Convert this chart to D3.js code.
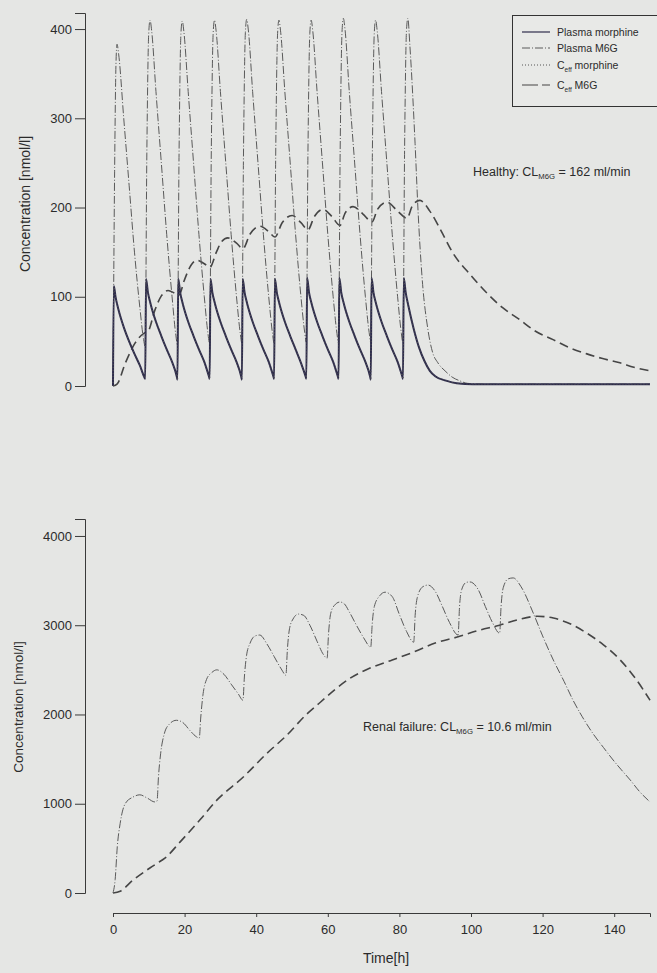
<!DOCTYPE html>
<html>
<head>
<meta charset="utf-8">
<script src="https://cdn.jsdelivr.net/npm/d3@7"></script>
<style>
    body { margin: 0; background: #e5e6e4; }
    svg { display: block; }
    text { font-family: "Liberation Sans", Arial, sans-serif; fill: #2b2b2b; }
</style>
</head>
<body>
<svg id="chart" width="657" height="973"></svg>
<script>
/*--------------------------------------------------------------------------------
----- DATA (time [h], concentration [nmol/l])
--------------------------------------------------------------------------------*/

// Top panel (healthy): plasma morphine
const top_plasma_morphine = [
    [0, 0], [0.3, 112], [1, 99], [2, 86], [4, 66], [6, 50], [8, 36], [10, 23], [11.8, 9],
    [12, 8], [12.3, 120], [13, 105], [14, 92], [16, 72], [18, 56], [20, 41], [22, 27], [23.8, 10],
    [24, 7], [24.3, 120], [25, 105], [26, 92], [28, 72], [30, 56], [32, 41], [34, 27], [35.8, 10],
    [36, 8], [36.3, 120], [37, 105], [38, 92], [40, 72], [42, 56], [44, 41], [46, 27], [47.8, 10],
    [48, 7], [48.3, 120], [49, 105], [50, 92], [52, 72], [54, 56], [56, 41], [58, 27], [59.8, 10],
    [60, 8], [60.3, 120], [61, 105], [62, 92], [64, 72], [66, 56], [68, 41], [70, 26], [71.8, 10],
    [72, 8], [72.3, 121], [73, 105], [74, 92], [76, 72], [78, 56], [80, 41], [82, 27], [83.8, 10],
    [84, 8], [84.3, 121], [85, 105], [86, 92], [88, 72], [90, 56], [92, 41], [94, 27], [95.8, 10],
    [96, 7], [96.3, 121], [97, 105], [98, 92], [100, 72], [102, 56], [104, 41], [106, 27], [107.8, 10],
    [108, 8], [108.3, 121], [109, 105], [110, 90], [112, 64], [114, 43], [116, 28], [118, 17],
    [120, 11], [124, 6], [128, 3], [134, 2], [200, 2]
];

// Top panel: effect-site morphine lies on top of the plasma curve
const top_ceff_morphine = top_plasma_morphine;

// Top panel: plasma M6G
const top_plasma_m6g = [
    [0, 0], [0.6, 240], [1.1, 360], [1.5, 383], [2.1, 372], [4, 300], [6, 225], [8, 150], [10, 88], [11.4, 52],
    [12, 44], [12.6, 260], [13.3, 395], [13.8, 410], [14.4, 398], [16, 330], [18, 250], [20, 170], [22, 100], [23.4, 57],
    [24, 46], [24.6, 260], [25.3, 395], [25.8, 409], [26.4, 397], [28, 330], [30, 250], [32, 170], [34, 100], [35.4, 58],
    [36, 47], [36.6, 260], [37.3, 395], [37.8, 410], [38.4, 398], [40, 330], [42, 250], [44, 170], [46, 100], [47.4, 59],
    [48, 48], [48.6, 260], [49.3, 396], [49.8, 411], [50.4, 399], [52, 330], [54, 250], [56, 170], [58, 100], [59.4, 59],
    [60, 48], [60.6, 260], [61.3, 395], [61.8, 410], [62.4, 398], [64, 330], [66, 250], [68, 170], [70, 100], [71.4, 60],
    [72, 49], [72.6, 260], [73.3, 395], [73.8, 410], [74.4, 398], [76, 330], [78, 250], [80, 170], [82, 100], [83.4, 59],
    [84, 48], [84.6, 262], [85.3, 397], [85.8, 412], [86.4, 400], [88, 330], [90, 250], [92, 170], [94, 100], [95.4, 60],
    [96, 49], [96.6, 260], [97.3, 395], [97.8, 410], [98.4, 398], [100, 330], [102, 250], [104, 170], [106, 100], [107.4, 59],
    [108, 48], [108.6, 265], [109.3, 398], [109.8, 412], [110.6, 380], [112.5, 272], [113.6, 197], [115.1, 122],
    [117.3, 63], [119, 38], [121, 26], [124, 16], [126.3, 10], [129, 6], [132, 3], [138, 2], [200, 2]
];

// Top panel: effect-site M6G
const top_ceff_m6g = [
    [0, 0], [1.5, 2], [4.5, 25], [8.2, 48], [11.5, 59], [13, 61], [15.6, 85], [18, 101], [20.5, 107],
    [23, 104], [24.6, 102], [26.5, 118], [29, 135], [31.3, 141], [34, 137], [36.1, 133], [38.5, 150],
    [40.5, 162], [42.8, 166], [46, 160], [48.4, 154], [51, 170], [54.7, 179], [58, 173], [60.3, 167],
    [63, 183], [66.7, 191], [70, 183], [72.6, 175], [75, 190], [78.2, 198], [81.5, 190], [84.5, 180],
    [86.5, 194], [89.4, 201], [93, 193], [96.5, 184], [98.5, 198], [102, 206], [106, 196], [109.5, 188],
    [111.5, 202], [114.3, 208], [118, 196], [122, 175], [126.6, 149], [133, 125], [139.3, 104],
    [145, 88], [151.6, 74], [157, 62], [163.9, 52], [170, 43], [176.5, 36], [182, 31], [188.8, 26],
    [194, 21], [200, 17]
];

// Bottom panel (renal failure): plasma M6G
const bottom_plasma_m6g = [
    [0, 0], [0.6, 150], [1.2, 520], [2, 780], [3.4, 1000], [5.6, 1075], [7.5, 1100], [9.5, 1065], [11.7, 1020],
    [12.3, 1030], [12.7, 1300], [13.3, 1560], [14.3, 1780], [15.7, 1890], [17.7, 1935], [19.5, 1910], [21.5, 1820], [23.3, 1750],
    [24.1, 1735], [24.5, 1960], [25.1, 2210], [26.1, 2390], [27.6, 2470], [29, 2500], [31, 2450], [33, 2340], [35, 2230],
    [36.3, 2160], [36.7, 2420], [37.3, 2660], [38.3, 2800], [39.7, 2880], [41, 2890], [43, 2790], [45, 2650], [47, 2510],
    [48.3, 2440], [48.7, 2720], [49.3, 2960], [50.3, 3070], [51.8, 3125], [53.3, 3110], [55, 3000], [57, 2820], [58.8, 2670],
    [59.8, 2630], [60.2, 2900], [60.8, 3130], [61.8, 3220], [63.4, 3260], [64.6, 3240], [66, 3150], [68, 3000], [70, 2860],
    [72, 2755], [72.4, 3010], [73, 3210], [74.5, 3330], [76, 3370], [78, 3320], [80, 3120], [82, 2930], [84, 2810],
    [84.4, 3110], [85, 3310], [86.5, 3430], [88, 3450], [90, 3380], [92, 3210], [94, 3030], [96.4, 2890],
    [96.8, 3210], [97.4, 3400], [98.7, 3480], [99.7, 3485], [102, 3400], [104, 3210], [106, 3030], [108, 2910],
    [108.4, 3210], [109, 3420], [110.4, 3520], [111.8, 3530], [114, 3430], [117.4, 3135], [120, 2880],
    [123, 2610], [126, 2370], [128.5, 2160], [131, 1980], [134, 1790], [137, 1630], [139.7, 1490],
    [142, 1380], [144.5, 1265], [147, 1140], [150, 1020]
];

// Bottom panel: effect-site M6G
const bottom_ceff_m6g = [
    [0, 0], [2, 20], [5.6, 145], [10.3, 280], [12.2, 330], [14.5, 390], [18.7, 570], [24.3, 820],
    [29, 1040], [36.4, 1300], [43, 1565], [48.6, 1770], [54, 2000], [58, 2140], [62, 2280], [66, 2400],
    [71.8, 2520], [78, 2610], [84, 2700], [90, 2800], [96.4, 2870], [102, 2940], [108, 3000],
    [113, 3060], [118.5, 3100], [123, 3080], [128, 3010], [132.4, 2910], [137, 2780], [141.7, 2610],
    [146, 2400], [150, 2160]
];

// Tick labels
const top_y_ticks = [0, 100, 200, 300, 400];
const bottom_y_ticks = [0, 1000, 2000, 3000, 4000];
const bottom_x_ticks = [0, 20, 40, 60, 80, 100, 120, 140];

// Legend entries
const legend_labels = [["Plasma morphine", ""], ["Plasma M6G", ""], ["C", "eff", " morphine"], ["C", "eff", " M6G"]];

/*--------------------------------------------------------------------------------
----- STYLES
--------------------------------------------------------------------------------*/
const series_styles = {
    plasma_morphine: { stroke: "#2e2c4c", width: 2, dash: null },
    plasma_m6g: { stroke: "#5a5a5a", width: 1, dash: "8,2,1,2" },
    ceff_morphine: { stroke: "#555", width: 1, dash: "1,2" },
    ceff_m6g: { stroke: "#454545", width: 1.6, dash: "9,5" }
};

const svg = d3.select("#chart");

// Scales of both panels
const top_x_scale = d3.scaleLinear().domain([0, 200]).range([113, 650]);
const top_y_scale = d3.scaleLinear().domain([0, 418]).range([386, 13]);
const bottom_x_scale = d3.scaleLinear().domain([0, 150]).range([113, 650]);
const bottom_y_scale = d3.scaleLinear().domain([0, 4190]).range([893, 519]);

// Function to draw a left axis with the look of the scanned figure
function draw_y_axis(scale, ticks) {
    const g = svg.append("g")
        .attr("transform", "translate(85,0)")
        .call(d3.axisLeft(scale).tickValues(ticks).tickSize(10).tickPadding(3).tickFormat(d3.format("d")));
    g.selectAll("path, line").attr("stroke", "#3a3a3a");
    g.selectAll("text").style("font-size", "13px").attr("fill", "#2b2b2b");
}

// Function to draw a series line
function draw_series(data, x_scale, y_scale, style) {
    const line = d3.line()
        .x(d => x_scale(d[0]))
        .y(d => y_scale(d[1]))
        .curve(d3.curveMonotoneX);
    svg.append("path")
        .datum(data)
        .attr("d", line)
        .attr("fill", "none")
        .attr("stroke", style.stroke)
        .attr("stroke-width", style.width)
        .attr("stroke-dasharray", style.dash)
        .attr("stroke-linejoin", "round");
}

// Function to write a label with a subscript
function draw_sub_label(x, y, before, sub, after, size) {
    const t = svg.append("text").attr("x", x).attr("y", y).style("font-size", size + "px");
    t.append("tspan").text(before);
    t.append("tspan").attr("dy", 3).style("font-size", (size * 0.62) + "px").text(sub);
    t.append("tspan").attr("dy", -3).text(after);
}

/*--------------------------------------------------------------------------------
----- TOP PANEL
--------------------------------------------------------------------------------*/
draw_y_axis(top_y_scale, top_y_ticks);
draw_series(top_ceff_m6g, top_x_scale, top_y_scale, series_styles.ceff_m6g);
draw_series(top_plasma_m6g, top_x_scale, top_y_scale, series_styles.plasma_m6g);
draw_series(top_plasma_morphine, top_x_scale, top_y_scale, series_styles.plasma_morphine);
draw_series(top_ceff_morphine, top_x_scale, top_y_scale, series_styles.ceff_morphine);

svg.append("text")
    .attr("transform", "translate(30,204) rotate(-90)")
    .attr("text-anchor", "middle")
    .style("font-size", "14px")
    .text("Concentration [nmol/l]");

draw_sub_label(473, 176, "Healthy: CL", "M6G", " = 162 ml/min", 12.5);

// Legend box
const legend = svg.append("g");
legend.append("rect")
    .attr("x", 512.5).attr("y", 15.5)
    .attr("width", 160).attr("height", 91)
    .attr("fill", "#e8e9e7")
    .attr("stroke", "#333").attr("stroke-width", 1);

const legend_rows_y = [32, 48, 65, 85];
const legend_keys = ["plasma_morphine", "plasma_m6g", "ceff_morphine", "ceff_m6g"];
legend_keys.forEach((key, i) => {
    const style = series_styles[key];
    legend.append("line")
        .attr("x1", 522).attr("x2", 550)
        .attr("y1", legend_rows_y[i]).attr("y2", legend_rows_y[i])
        .attr("stroke", style.stroke)
        .attr("stroke-width", Math.min(style.width, 1.2))
        .attr("stroke-dasharray", key === "ceff_m6g" ? "16,4,6,0" : style.dash);
    const lab = legend_labels[i];
    if (lab.length === 2) {
        legend.append("text").attr("x", 557).attr("y", legend_rows_y[i] + 4)
            .style("font-size", "10.5px").text(lab[0]);
    } else {
        const t = legend.append("text").attr("x", 557).attr("y", legend_rows_y[i] + 4).style("font-size", "10.5px");
        t.append("tspan").text(lab[0]);
        t.append("tspan").attr("dy", 2.5).style("font-size", "6.5px").text(lab[1]);
        t.append("tspan").attr("dy", -2.5).text(lab[2]);
    }
});

/*--------------------------------------------------------------------------------
----- BOTTOM PANEL
--------------------------------------------------------------------------------*/
draw_y_axis(bottom_y_scale, bottom_y_ticks);
draw_series(bottom_ceff_m6g, bottom_x_scale, bottom_y_scale, series_styles.ceff_m6g);
draw_series(bottom_plasma_m6g, bottom_x_scale, bottom_y_scale, series_styles.plasma_m6g);

const x_axis = svg.append("g")
    .attr("transform", "translate(0,913)")
    .call(d3.axisBottom(bottom_x_scale).tickValues(bottom_x_ticks).tickSize(4).tickSizeOuter(4).tickPadding(8));
x_axis.selectAll("path, line").attr("stroke", "#3a3a3a");
x_axis.selectAll("text").style("font-size", "13px").attr("fill", "#2b2b2b");

svg.append("text")
    .attr("transform", "translate(23,707) rotate(-90)")
    .attr("text-anchor", "middle")
    .style("font-size", "13.5px")
    .text("Concentration [nmol/l]");

svg.append("text")
    .attr("x", 386).attr("y", 963)
    .attr("text-anchor", "middle")
    .style("font-size", "14px")
    .text("Time[h]");

draw_sub_label(363, 731, "Renal failure: CL", "M6G", " = 10.6 ml/min", 12.5);
</script>
</body>
</html>
